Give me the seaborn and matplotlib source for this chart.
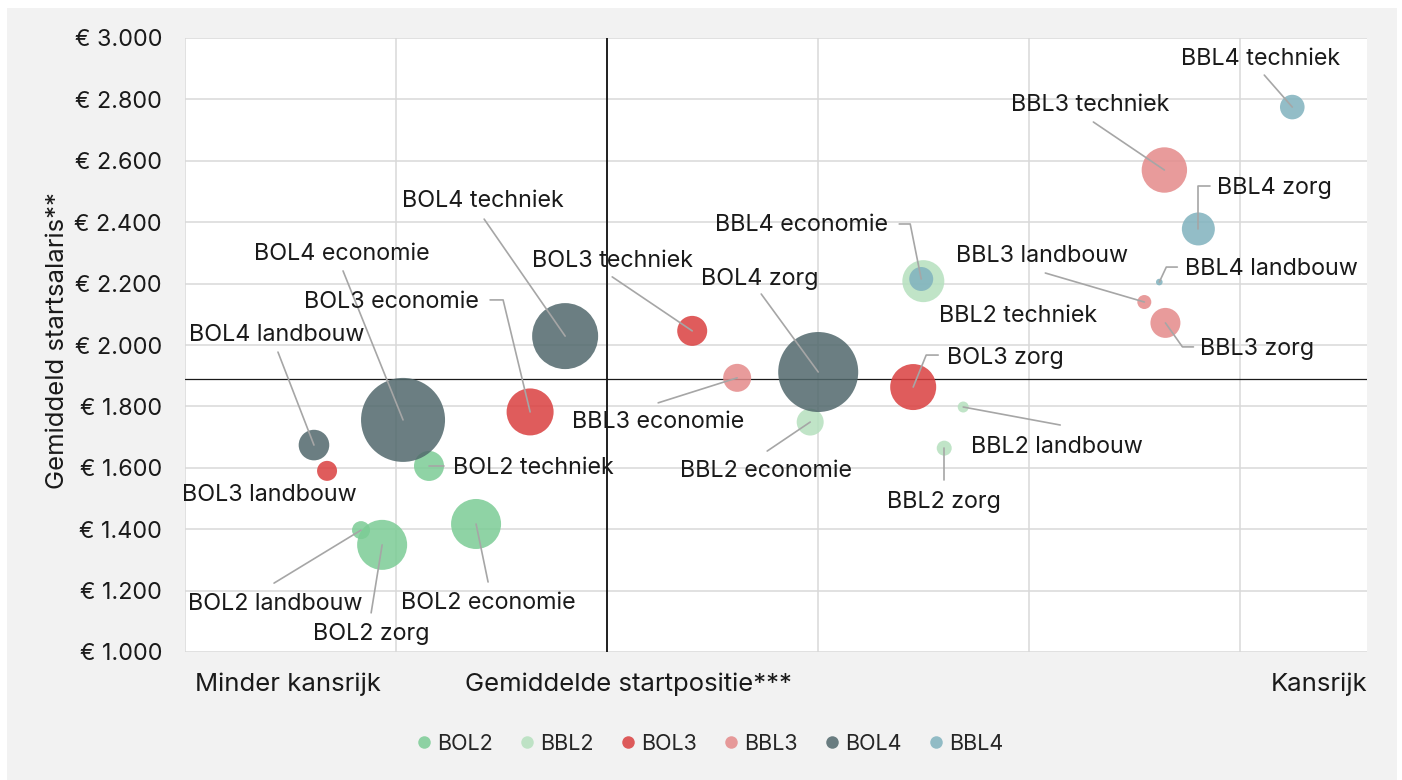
import matplotlib
matplotlib.use("Agg")
import pandas as pd
import seaborn as sns
import matplotlib.pyplot as plt
import matplotlib.transforms as mtransforms
from matplotlib.patches import Rectangle
from matplotlib.lines import Line2D

# Data: per opleiding (volgorde: economie, landbouw, techniek, zorg)
opleiding = ["BOL2"] * 4 + ["BBL2"] * 4 + ["BOL3"] * 4 + ["BBL3"] * 4 + ["BOL4"] * 4 + ["BBL4"] * 4
sector = ["economie", "landbouw", "techniek", "zorg"] * 6

# startpositie (0 = minder kansrijk, 2 = gemiddeld)
startpositie = [1.379, 0.834, 1.156, 0.934,
                2.962, 3.687, 3.498, 3.597,
                1.635, 0.673, 2.403, 3.450,
                2.616, 4.545, 4.640, 4.645,
                1.033, 0.611, 1.801, 3.000,
                3.488, 4.616, 5.246, 4.801]

startsalaris = [1417, 1397, 1606, 1349,
                1749, 1798, 2208, 1664,
                1782, 1590, 2046, 1863,
                1893, 2140, 2570, 2072,
                1756, 1674, 2029, 1912,
                2215, 2205, 2775, 2378]

aantal = [2500, 324, 900, 2500,
          729, 121, 1764, 225,
          2209, 400, 900, 2116,
          784, 196, 2061, 900,
          7056, 936, 4356, 6400,
          576, 44, 605, 1089]

gemiddelde_positie = 2.0
gemiddeld_salaris = 1889

kleuren = {
    "BOL2": "#7bcc95",
    "BBL2": "#b5e0be",
    "BOL3": "#da3f3f",
    "BBL3": "#e48a8a",
    "BOL4": "#51686c",
    "BBL4": "#80b2be",
}

# Label plaatsing: tekst-offset en leader line (pixels t.o.v. bubbel, y naar beneden)
label_layout = {
    "BOL4 techniek": ((-82, -137), [(-81, -117), (0, 0)]),
    "BOL4 economie": ((-61, -167), [(-60, -149), (0, 0)]),
    "BOL3 economie": ((-139, -111), [(-40, -112), (-27, -112), (0, 0)]),
    "BOL4 landbouw": ((-37, -112), [(-36, -93), (0, 0)]),
    "BOL3 techniek": ((-80, -71), [(-80, -54), (0, 0)]),
    "BOL4 zorg": ((-58, -95), [(-57, -78), (0, 0)]),
    "BBL4 economie": ((-120, -55), [(-22, -55), (-11, -55), (0, 0)]),
    "BBL2 techniek": ((95, 33), []),
    "BBL3 landbouw": ((-102, -48), [(-99, -29), (0, 0)]),
    "BBL4 landbouw": ((112, -15), [(18, -15), (7, -15), (0, 0)]),
    "BBL4 zorg": ((76, -42), [(12, -43), (0, -43), (0, 0)]),
    "BBL3 techniek": ((-74, -67), [(-71, -48), (0, 0)]),
    "BBL4 techniek": ((-32, -50), [(-28, -32), (0, 0)]),
    "BBL3 zorg": ((92, 25), [(28, 24), (17, 24), (0, 0)]),
    "BOL3 zorg": ((92, -31), [(25, -32), (13, -32), (0, 0)]),
    "BBL2 landbouw": ((94, 38), [(97, 18), (0, 0)]),
    "BBL2 zorg": ((0, 52), [(0, 32), (0, 0)]),
    "BBL2 economie": ((-44, 47), [(-43, 29), (0, 0)]),
    "BBL3 economie": ((-79, 43), [(-79, 25), (0, 0)]),
    "BOL2 techniek": ((104, 1), [(15, 0), (0, 0)]),
    "BOL3 landbouw": ((-58, 23), []),
    "BOL2 landbouw": ((-86, 72), [(-87, 53), (0, 0)]),
    "BOL2 zorg": ((-11, 88), [(-11, 68), (0, 0)]),
    "BOL2 economie": ((12, 78), [(12, 58), (0, 0)]),
}

df = pd.DataFrame({
    "opleiding": opleiding,
    "sector": sector,
    "startpositie": startpositie,
    "startsalaris": startsalaris,
    "aantal": aantal,
})
df["label"] = df["opleiding"] + " " + df["sector"]

sns.set_theme(style="white")
plt.rcParams["font.family"] = ["Inter", "DejaVu Sans"]

fig = plt.figure(figsize=(14.02, 7.80), dpi=100, facecolor="white")
fig.patches.append(Rectangle((7 / 1402, 0), 1390 / 1402, 772 / 780,
                             transform=fig.transFigure, facecolor="#f2f2f2",
                             edgecolor="none", zorder=-10))
ax = fig.add_axes([185 / 1402, 1 - 652 / 780, 1182 / 1402, 614 / 780])
ax.set_facecolor("white")

max_n = max(aantal)
sns.scatterplot(data=df, x="startpositie", y="startsalaris", hue="opleiding",
                size="aantal", sizes=(0, 0.5184 * max_n), size_norm=(0, max_n),
                palette=kleuren, alpha=0.85, linewidth=0, legend=False,
                ax=ax, zorder=3)

ax.set_xlim(0, 5.6)
ax.set_ylim(1000, 3000)
ax.set_xticks(range(0, 6))
ax.set_xticklabels([])
ax.set_yticks(range(1000, 3001, 200))
ax.set_yticklabels(["€ " + f"{v:,}".replace(",", ".") for v in range(1000, 3001, 200)],
                   fontsize=16.8, color="#1a1a1a")
ax.tick_params(axis="both", length=0)
ax.tick_params(axis="y", pad=16.5)
ax.grid(True, color="#d9d9d9", linewidth=1.1)
for s in ax.spines.values():
    s.set_visible(False)
ax.set_xlabel("")
ax.set_ylabel("")

ax.axvline(gemiddelde_positie, color="black", linewidth=1.2, zorder=2)
ax.axhline(gemiddeld_salaris, color="#1a1a1a", linewidth=0.9, zorder=2)

# labels + leader lines
for _, row in df.iterrows():
    (tx, ty), lijn = label_layout[row["label"]]
    ax.annotate(row["label"], xy=(row["startpositie"], row["startsalaris"]),
                xytext=(tx, -ty - 1.5), textcoords="offset pixels",
                ha="center", va="center", fontsize=16.8, color="#1a1a1a", zorder=6)
    if lijn:
        trans = mtransforms.Affine2D().scale(1, -1) + \
            mtransforms.ScaledTranslation(row["startpositie"], row["startsalaris"], ax.transData)
        ax.add_line(Line2D([p[0] for p in lijn], [p[1] for p in lijn],
                           transform=trans, color="#a6a6a6", linewidth=1.2, zorder=5))

# as-teksten
ax.text(0.0085, -0.052, "Minder kansrijk", transform=ax.transAxes,
        ha="left", va="center", fontsize=18.5, color="#1a1a1a")
ax.text(0.237, -0.052, "Gemiddelde startpositie***", transform=ax.transAxes,
        ha="left", va="center", fontsize=18.5, color="#1a1a1a")
ax.text(1.0, -0.052, "Kansrijk", transform=ax.transAxes,
        ha="right", va="center", fontsize=18.5, color="#1a1a1a")
fig.text(58 / 1402, 1 - 341 / 780, "Gemiddeld startsalaris**", rotation=90,
         ha="center", va="center", fontsize=18.5, color="#1a1a1a")

handles = [Line2D([0], [0], marker="o", linestyle="", markersize=9,
                  markerfacecolor=kleuren[k], markeredgewidth=0, alpha=0.85)
           for k in kleuren]
fig.legend(handles, list(kleuren), loc="center", bbox_to_anchor=(0.505, 1 - 744 / 780),
           ncol=6, frameon=False, fontsize=15.5, handletextpad=0.1,
           columnspacing=1.1, handlelength=1.0)

fig.savefig("out.png", dpi=100, facecolor="white")
